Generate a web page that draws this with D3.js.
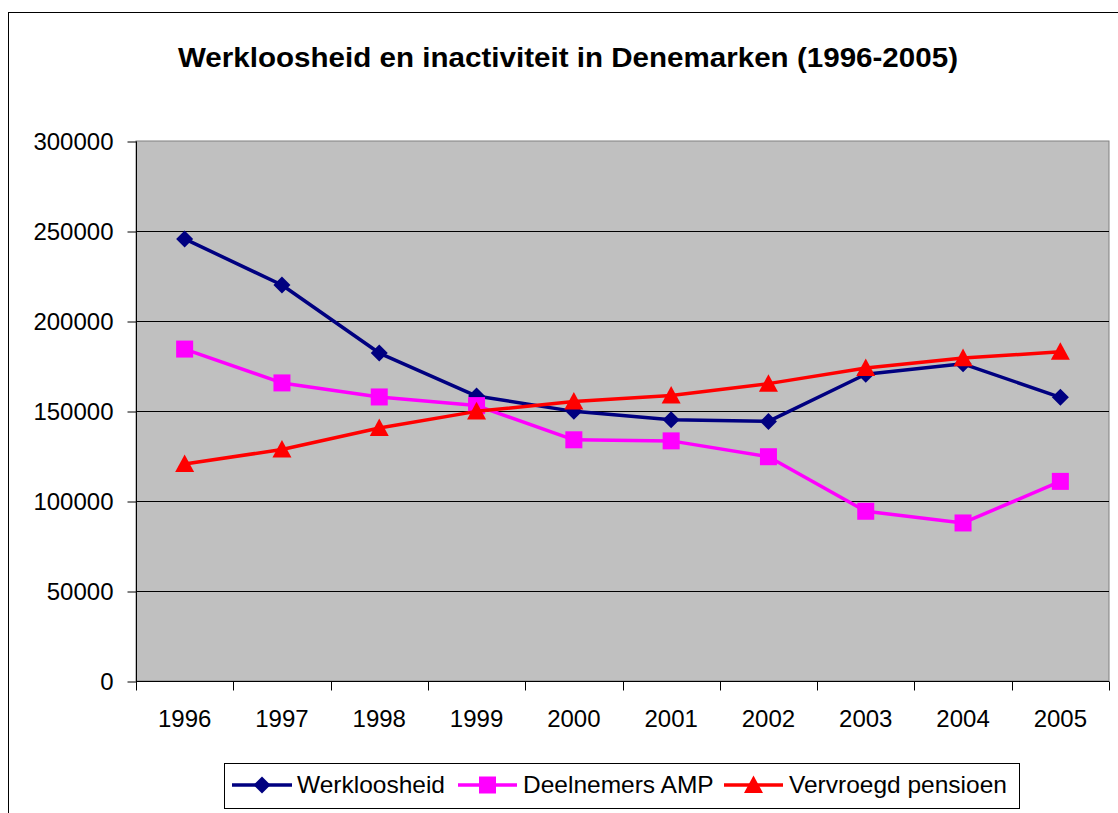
<!DOCTYPE html>
<html>
<head>
<meta charset="utf-8">
<script src="https://cdn.jsdelivr.net/npm/d3@7"></script>
<style>
  html, body { margin: 0; padding: 0; background: #fff; }
  svg { display: block; }
  text { font-family: "Liberation Sans", Arial, sans-serif; }
</style>
</head>
<body>
<svg id="chart" width="1118" height="813"></svg>
<script>
const years = ["1996","1997","1998","1999","2000","2001","2002","2003","2004","2005"];
const werkloosheid = [245600, 220000, 182200, 158300, 149800, 145200, 144200, 170400, 176200, 157600];
const deelnemersAMP = [184400, 165600, 157800, 153000, 134000, 133400, 124600, 94300, 87800, 110900];
const vervroegdPensioen = [120600, 128600, 140600, 149800, 155300, 158600, 165200, 173900, 179400, 182900];
const yTicks = [0, 50000, 100000, 150000, 200000, 250000, 300000];
const seriesNames = ["Werkloosheid", "Deelnemers AMP", "Vervroegd pensioen"];
const titleText = "Werkloosheid en inactiviteit in Denemarken (1996-2005)";

const series = [
  { name: seriesNames[0], values: werkloosheid, color: "#000080", marker: "diamond" },
  { name: seriesNames[1], values: deelnemersAMP, color: "#FF00FF", marker: "square" },
  { name: seriesNames[2], values: vervroegdPensioen, color: "#FF0000", marker: "triangle" }
];

const svg = d3.select("#chart");

// outer chart frame
svg.append("rect").attr("x", 8.5).attr("y", 12.5).attr("width", 1130).attr("height", 830)
  .attr("fill", "#fff").attr("stroke", "#000").attr("stroke-width", 1);

const plot = { left: 136, right: 1109, top: 141, bottom: 681 };

const x = d3.scaleBand().domain(years).range([plot.left, plot.right]).padding(0);
const y = d3.scaleLinear().domain([0, 300000]).range([plot.bottom, plot.top]);

// title
svg.append("text").attr("x", 568).attr("y", 67).attr("text-anchor", "middle")
  .attr("font-size", 27).attr("font-weight", "bold").attr("fill", "#000")
  .attr("textLength", 780).attr("lengthAdjust", "spacingAndGlyphs").text(titleText);

// plot background
svg.append("rect").attr("x", plot.left).attr("y", plot.top)
  .attr("width", plot.right - plot.left).attr("height", plot.bottom - plot.top)
  .attr("fill", "#C0C0C0").attr("stroke", "#808080").attr("stroke-width", 1);

// gridlines
svg.append("g").selectAll("line").data(yTicks.filter(d => d > 0 && d < 300000)).join("line")
  .attr("x1", plot.left).attr("x2", plot.right)
  .attr("y1", d => Math.round(y(d)) + 0.5).attr("y2", d => Math.round(y(d)) + 0.5)
  .attr("stroke", "#000").attr("stroke-width", 1);

// y axis
const yAxis = d3.axisLeft(y).tickValues(yTicks).tickSize(9).tickPadding(14).tickFormat(d3.format("d"));
const gy = svg.append("g").attr("transform", `translate(${plot.left + 0.5},0.5)`).call(yAxis);
gy.selectAll("text").attr("font-size", 24).attr("fill", "#000").attr("font-family", "Liberation Sans, Arial, sans-serif");
gy.select(".domain").attr("stroke", "#000").attr("d", `M0,${plot.top}V${plot.bottom}`);
gy.selectAll(".tick line").attr("stroke", "#000");

// x axis
const xAxis = d3.axisBottom(x).tickSize(0).tickPadding(28);
const gx = svg.append("g").attr("transform", `translate(0,${plot.bottom + 0.5})`).call(xAxis);
gx.select(".domain").attr("stroke", "#000").attr("d", `M${plot.left},0H${plot.right}`);
gx.selectAll("text").attr("font-size", 24).attr("fill", "#000").attr("font-family", "Liberation Sans, Arial, sans-serif");
// category boundary ticks
const bounds = years.map(d => x(d)).concat([plot.right]);
gx.append("g").selectAll("line").data(bounds).join("line")
  .attr("x1", d => Math.round(d) + 0.5).attr("x2", d => Math.round(d) + 0.5)
  .attr("y1", 0).attr("y2", 9).attr("stroke", "#000");

const cx = d => x(d) + x.bandwidth() / 2;

function drawMarker(g, type, color, px, py, s) {
  if (type === "diamond") {
    g.append("path").attr("d", `M${px},${py - s}L${px + s},${py}L${px},${py + s}L${px - s},${py}Z`).attr("fill", color);
  } else if (type === "square") {
    g.append("rect").attr("x", px - s).attr("y", py - s).attr("width", 2 * s).attr("height", 2 * s).attr("fill", color);
  } else {
    g.append("path").attr("d", `M${px},${py - s}L${px + s},${py + s * 0.85}L${px - s},${py + s * 0.85}Z`).attr("fill", color);
  }
}

const line = d3.line().x((d, i) => cx(years[i])).y(d => y(d));
series.forEach(s => {
  const g = svg.append("g");
  g.append("path").datum(s.values).attr("d", line).attr("fill", "none")
    .attr("stroke", s.color).attr("stroke-width", 3.5).attr("stroke-linejoin", "round");
  s.values.forEach((v, i) => {
    const size = s.marker === "diamond" ? 8.5 : (s.marker === "square" ? 8.5 : 9.5);
    drawMarker(g, s.marker, s.color, cx(years[i]), y(v), size);
  });
});

// legend
const leg = svg.append("g");
leg.append("rect").attr("x", 224.5).attr("y", 763.5).attr("width", 795).attr("height", 45)
  .attr("fill", "#fff").attr("stroke", "#000").attr("stroke-width", 1);
const legItems = [
  { x1: 232, x2: 292, tx: 297 },
  { x1: 458, x2: 517, tx: 523 },
  { x1: 724, x2: 783, tx: 789 }
];
series.forEach((s, i) => {
  const it = legItems[i];
  leg.append("line").attr("x1", it.x1).attr("x2", it.x2).attr("y1", 785).attr("y2", 785)
    .attr("stroke", s.color).attr("stroke-width", 3.5);
  drawMarker(leg, s.marker, s.color, (it.x1 + it.x2) / 2, 785, s.marker === "triangle" ? 9.5 : 8.5);
  leg.append("text").attr("x", it.tx).attr("y", 793).attr("font-size", 24.5).attr("fill", "#000").text(s.name);
});
</script>
</body>
</html>
